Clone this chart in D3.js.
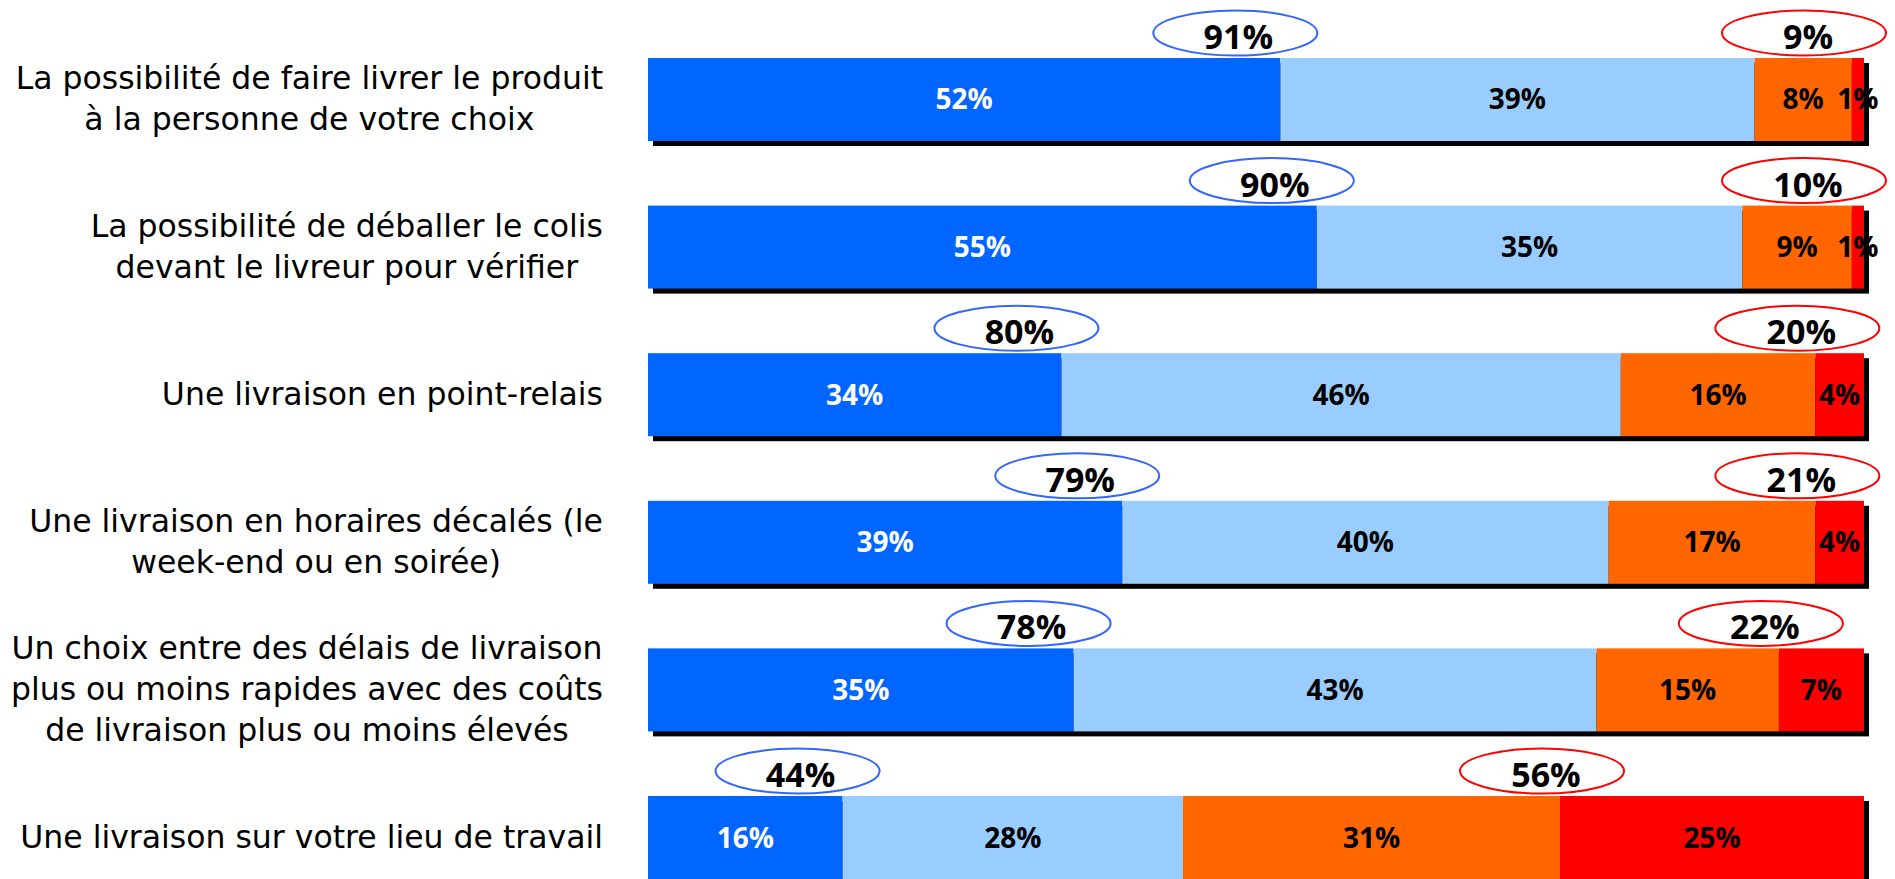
<!DOCTYPE html>
<html>
<head>
<meta charset="utf-8">
<script src="https://cdn.jsdelivr.net/npm/d3@7"></script>
<style>
  html, body { margin: 0; padding: 0; background: #fff; }
  svg { display: block; }
</style>
</head>
<body>
<div id="chart"></div>
<script>
// Categories (label lines) and series values, top to bottom
const categories = [
  ['La possibilité de faire livrer le produit', 'à la personne de votre choix'],
  ['La possibilité de déballer le colis', 'devant le livreur pour vérifier'],
  ['Une livraison en point-relais'],
  ['Une livraison en horaires décalés (le', 'week-end ou en soirée)'],
  ['Un choix entre des délais de livraison', 'plus ou moins rapides avec des coûts', 'de livraison plus ou moins élevés'],
  ['Une livraison sur votre lieu de travail']
];
const darkBlue  = [52, 55, 34, 39, 35, 16];
const lightBlue = [39, 35, 46, 40, 43, 28];
const orange    = [8, 9, 16, 17, 15, 31];
const red       = [1, 1, 4, 4, 7, 25];
const totalPositive = [91, 90, 80, 79, 78, 44];
const totalNegative = [9, 10, 20, 21, 22, 56];

const width = 1895, height = 879;
const keys = ['darkBlue', 'lightBlue', 'orange', 'red'];
const colors = { darkBlue: '#0066ff', lightBlue: '#99ccff', orange: '#ff6600', red: '#ff0000' };
const textColors = { darkBlue: '#ffffff', lightBlue: '#000000', orange: '#000000', red: '#000000' };

const rows = categories.map((c, i) => ({
  id: i,
  darkBlue: darkBlue[i],
  lightBlue: lightBlue[i],
  orange: orange[i],
  red: red[i],
  pos: totalPositive[i],
  neg: totalNegative[i]
}));

const svg = d3.select('#chart').append('svg')
  .attr('width', width)
  .attr('height', height);

const x = d3.scaleLinear().domain([0, 100]).range([648, 1864]);
const y = d3.scaleBand()
  .domain(rows.map(d => d.id))
  .range([58, 879])
  .paddingInner(0.4377)
  .paddingOuter(0);

const series = d3.stack().keys(keys)(rows);

// Shadows behind each bar
svg.append('g').selectAll('rect')
  .data(rows)
  .join('rect')
  .attr('x', x(0) + 5)
  .attr('y', d => y(d.id) + 5)
  .attr('width', x(100) - x(0))
  .attr('height', y.bandwidth())
  .attr('fill', '#000');

// Stacked segments
const layers = svg.append('g').selectAll('g')
  .data(series)
  .join('g')
  .attr('fill', s => colors[s.key]);

layers.selectAll('rect')
  .data(s => s.map(p => ({ key: s.key, p })))
  .join('rect')
  .attr('x', d => x(d.p[0]))
  .attr('y', d => y(d.p.data.id))
  .attr('width', d => x(d.p[1]) - x(d.p[0]))
  .attr('height', y.bandwidth());

// Segment labels
layers.selectAll('text')
  .data(s => s.map(p => ({ key: s.key, p })))
  .join('text')
  .attr('x', d => (x(d.p[0]) + x(d.p[1])) / 2)
  .attr('y', d => y(d.p.data.id) + y.bandwidth() / 2 + 10)
  .attr('text-anchor', 'middle')
  .attr('font-family', 'Open Sans, sans-serif')
  .attr('font-weight', 'bold')
  .attr('font-size', 28)
  .attr('fill', d => textColors[d.key])
  .text(d => (d.p[1] - d.p[0]) + '%');

// Total bubbles above the bars
const bubbles = svg.append('g');
const rx = 82, ry = 22.5;

const posCx = d => x(d.darkBlue) - 45;
const negCx = d => Math.min(x(d.pos + d.orange) - 18, x(100) - 60);

bubbles.selectAll('ellipse.pos')
  .data(rows)
  .join('ellipse')
  .attr('class', 'pos')
  .attr('cx', posCx)
  .attr('cy', d => y(d.id) - 25)
  .attr('rx', rx).attr('ry', ry)
  .attr('fill', '#fff')
  .attr('stroke', '#3366ff')
  .attr('stroke-width', 2);

bubbles.selectAll('ellipse.neg')
  .data(rows)
  .join('ellipse')
  .attr('class', 'neg')
  .attr('cx', negCx)
  .attr('cy', d => y(d.id) - 25)
  .attr('rx', rx).attr('ry', ry)
  .attr('fill', '#fff')
  .attr('stroke', '#ff0000')
  .attr('stroke-width', 2);

bubbles.selectAll('text.pos')
  .data(rows)
  .join('text')
  .attr('class', 'pos')
  .attr('x', d => posCx(d) + 3)
  .attr('y', d => y(d.id) - 9)
  .attr('text-anchor', 'middle')
  .attr('font-family', 'Open Sans, sans-serif')
  .attr('font-weight', 'bold')
  .attr('font-size', 34)
  .text(d => d.pos + '%');

bubbles.selectAll('text.neg')
  .data(rows)
  .join('text')
  .attr('class', 'neg')
  .attr('x', d => negCx(d) + 4)
  .attr('y', d => y(d.id) - 9)
  .attr('text-anchor', 'middle')
  .attr('font-family', 'Open Sans, sans-serif')
  .attr('font-weight', 'bold')
  .attr('font-size', 34)
  .text(d => d.neg + '%');

// Category labels, centred block whose widest line ends at the right edge
const lineHeight = 41;
const labels = svg.append('g').selectAll('text')
  .data(rows)
  .join('text')
  .attr('text-anchor', 'middle')
  .attr('font-family', 'DejaVu Sans, sans-serif')
  .attr('font-size', 31.5)
  .attr('fill', '#000');

labels.each(function(d) {
  const lines = categories[d.id];
  const t = d3.select(this);
  const cy = y(d.id) + y.bandwidth() / 2;
  lines.forEach((line, i) => {
    t.append('tspan')
      .attr('y', cy + (i - (lines.length - 1) / 2) * lineHeight + 10)
      .text(line);
  });
  let maxW = 0;
  t.selectAll('tspan').each(function() {
    maxW = Math.max(maxW, this.getComputedTextLength());
  });
  t.selectAll('tspan').attr('x', 603 - maxW / 2);
});
</script>
</body>
</html>
